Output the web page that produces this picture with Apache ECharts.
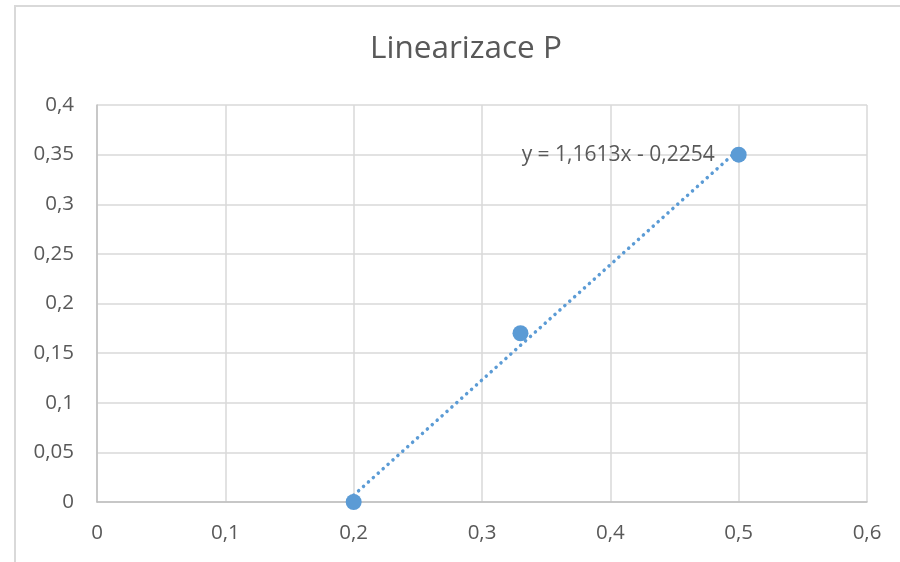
<!DOCTYPE html>
<html><head><meta charset="utf-8">
<script src="https://cdn.jsdelivr.net/npm/echarts@6/dist/echarts.min.js"></script>
<style>html,body{margin:0;padding:0;background:#fff}#c{width:900px;height:562px}</style>
</head><body><div id="c"></div>
<script>
const xValues = [0.2, 0.33, 0.5];
const yValues = [0, 0.17, 0.35];
const slope = 1.1613;
const intercept = -0.2254;
const trendX = [0.2, 0.5];
const trendLabel = 'y = 1,1613x - 0,2254';
const titleText = 'Linearizace P';

const fmt = v => String(+v.toFixed(2)).replace('.', ',');
const pts = xValues.map((x, i) => [x, yValues[i]]);
const trend = trendX.map(x => [x, slope * x + intercept]);
const font = '"Open Sans", "Noto Sans", sans-serif';
const chart = echarts.init(document.getElementById('c'));
chart.setOption({
  animation: false,
  backgroundColor: '#fff',
  title: { text: titleText, left: 365, top: 28, itemGap: 0, textStyle: { fontFamily: font, fontSize: 31.5, fontWeight: 'normal', color: '#595959' } },
  graphic: [{ type: 'rect', shape: { x: 15, y: 6, width: 1000, height: 1000 }, style: { fill: 'none', stroke: '#d9d9d9', lineWidth: 2 }, silent: true }],
  grid: { left: 97, right: 33, top: 105, bottom: 60 },
  xAxis: {
    type: 'value', min: 0, max: 0.6, interval: 0.1,
    axisLine: { show: true, lineStyle: { color: '#bfbfbf', width: 1.5 } },
    axisTick: { show: false },
    splitLine: { show: true, lineStyle: { color: '#d9d9d9', width: 1.5 } },
    axisLabel: { formatter: fmt, margin: 21, fontFamily: font, fontSize: 20.5, color: '#595959' }
  },
  yAxis: {
    type: 'value', min: 0, max: 0.4, interval: 0.05,
    axisLine: { show: true, lineStyle: { color: '#bfbfbf', width: 1.5 } },
    axisTick: { show: false },
    splitLine: { show: true, lineStyle: { color: '#d9d9d9', width: 1.5 } },
    axisLabel: { formatter: fmt, margin: 23, fontFamily: font, fontSize: 20.5, color: '#595959' }
  },
  series: [
    { type: 'line', data: trend, symbol: 'none', z: 2,
      lineStyle: { color: '#5b9bd5', width: 3.5, type: [0.1, 6.5], cap: 'round' },
      markPoint: { symbol: 'circle', symbolSize: 0, data: [{ coord: [0.5, 0.35], label: { show: true, formatter: trendLabel, position: 'left', distance: 24, fontFamily: font, fontSize: 21, color: '#595959' } }] }
    },
    { type: 'scatter', data: pts, symbol: 'circle', symbolSize: 16, z: 3, itemStyle: { color: '#5b9bd5', opacity: 1 } }
  ]
});
</script></body></html>
